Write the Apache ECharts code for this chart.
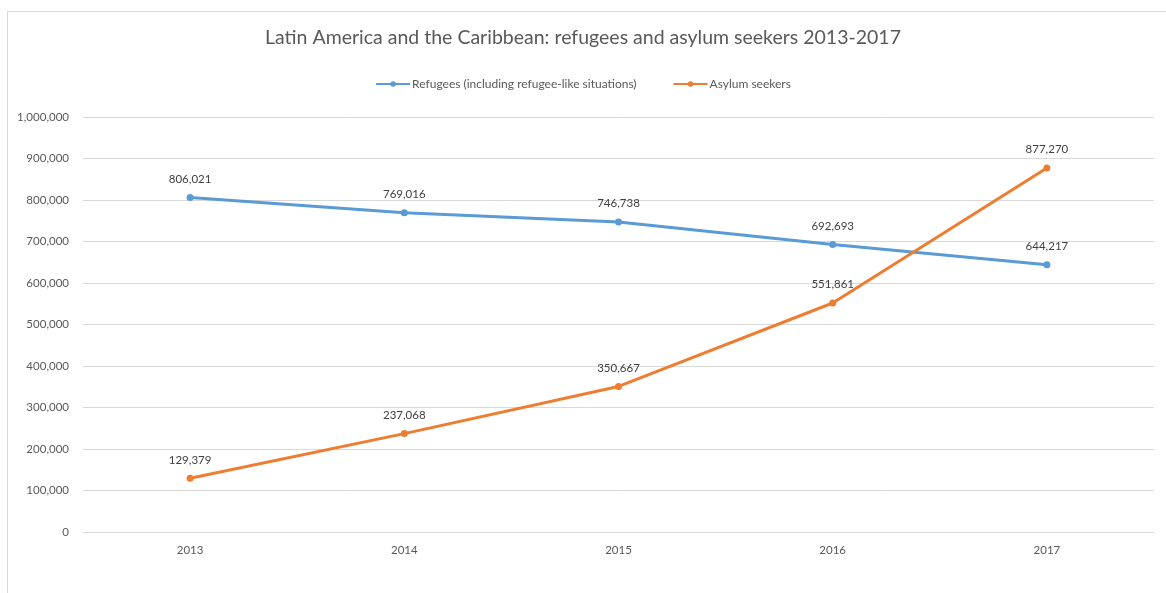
<!DOCTYPE html>
<html>
<head>
<meta charset="utf-8">
<script src="https://cdn.jsdelivr.net/npm/echarts@6/dist/echarts.min.js"></script>
<style>
    html, body { margin: 0; padding: 0; background: #ffffff; }
    .frame {
        position: absolute;
        left: 7px;
        top: 11px;
        width: 1170px;
        height: 600px;
        border-left: 1px solid #d9d9d9;
        border-top: 1px solid #d9d9d9;
    }
    #chart { position: absolute; left: 0; top: 0; width: 1166px; height: 593px; }
</style>
</head>
<body>
<div class="frame"></div>
<div id="chart"></div>
<script>
const years = ['2013', '2014', '2015', '2016', '2017']
const refugees = [806021, 769016, 746738, 692693, 644217]
const asylumSeekers = [129379, 237068, 350667, 551861, 877270]

const fontFamily = 'Lato, "Open Sans", sans-serif'
const fmt = v => v.toLocaleString('en-US')

const myChart = echarts.init(document.getElementById('chart'))

function lineSeries(name, data, color) {
    return {
        name: name,
        type: 'line',
        data: data,
        symbol: 'circle',
        symbolSize: 7,
        lineStyle: { width: 3, color: color },
        itemStyle: { color: color },
        label: {
            show: true,
            position: 'top',
            distance: 9,
            color: '#404040',
            fontSize: 11.5,
            fontFamily: fontFamily,
            formatter: p => fmt(p.value)
        }
    }
}

myChart.setOption({
    animation: false,
    title: {
        text: 'Latin America and the Caribbean: refugees and asylum seekers 2013-2017',
        left: 'center',
        top: 23,
        textStyle: { fontSize: 19.5, fontWeight: 'normal', color: '#595959', fontFamily: fontFamily }
    },
    legend: {
        top: 73,
        left: 'center',
        itemWidth: 34,
        itemHeight: 7,
        itemGap: 36,
        textStyle: { fontSize: 12, color: '#595959', fontFamily: fontFamily, padding: [0, 0, 0, -3] },
        data: ['Refugees (including refugee-like situations)', 'Asylum seekers']
    },
    grid: { left: 83, right: 12, top: 117, bottom: 61, containLabel: false },
    xAxis: {
        type: 'category',
        data: years,
        boundaryGap: true,
        axisLine: { show: false },
        axisTick: { show: false },
        axisLabel: { color: '#595959', fontSize: 11.5, fontFamily: fontFamily, margin: 12 }
    },
    yAxis: {
        type: 'value',
        min: 0,
        max: 1000000,
        interval: 100000,
        axisLine: { show: false },
        axisTick: { show: false },
        splitLine: { lineStyle: { color: '#d9d9d9', width: 1 } },
        axisLabel: { color: '#595959', fontSize: 11.5, fontFamily: fontFamily, margin: 14, formatter: fmt }
    },
    series: [
        lineSeries('Refugees (including refugee-like situations)', refugees, '#5b9bd5'),
        lineSeries('Asylum seekers', asylumSeekers, '#ed7d31')
    ]
})
</script>
</body>
</html>
